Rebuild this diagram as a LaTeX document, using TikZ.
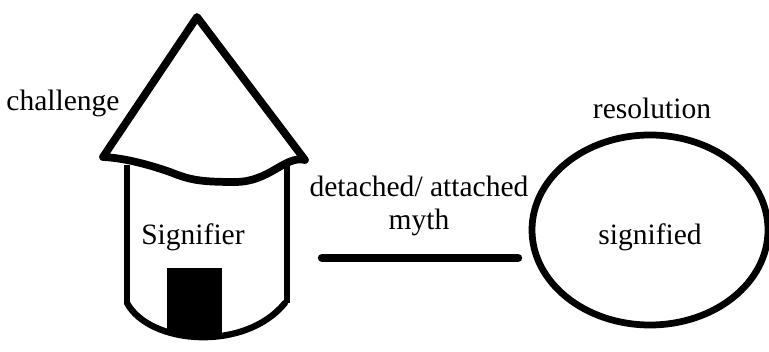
\documentclass[tikz,border=0pt]{standalone}
\usepackage{fontspec}
\setmainfont{Liberation Serif}
\begin{document}
\begin{tikzpicture}[x=0.025cm, y=-0.025cm, font=\fontsize{21}{24}\selectfont]
  \useasboundingbox (0,0) rectangle (769,352);

  % Roof
  \draw[line width=5.5pt, line join=round, line cap=round] (103,157) -- (197,17) -- (305,160)
    .. controls (285,155) and (270,182) .. (235,182)
    .. controls (200,182) and (190,180) .. (170,172)
    .. controls (150,165) and (125,158) .. cycle;

  % Tower body, door cut off by the bottom curve
  \begin{scope}
    \clip (127,165) -- (127,303) .. controls (150,345) and (245,352) .. (285,303) -- (287,165) -- cycle;
    \fill (167,268) rectangle (222,352);
  \end{scope}
  \draw[line width=4pt] (127,165) -- (127,303);
  \draw[line width=4pt] (287,165) -- (287,303);
  \draw[line width=4.5pt, line cap=round] (127,303) .. controls (150,345) and (245,352) .. (285,303);

  \node (challenge) at (63,103) {challenge};
  \node (signifier) at (193,237) {Signifier};

  % Right ellipse
  \draw[line width=4.8pt] (650,230) ellipse (118 and 95);
  \node (resolution) at (652,108) {resolution};
  \node (signified) at (650,237) {signified};

  % Link
  \coordinate (linkstart) at (322,258);
  \coordinate (linkend) at (518,258);
  \draw[line width=6pt, line cap=round] (linkstart) -- (linkend);
  \node[align=center] (myth) at (419,206) {detached/ attached\\myth};
\end{tikzpicture}
\end{document}
